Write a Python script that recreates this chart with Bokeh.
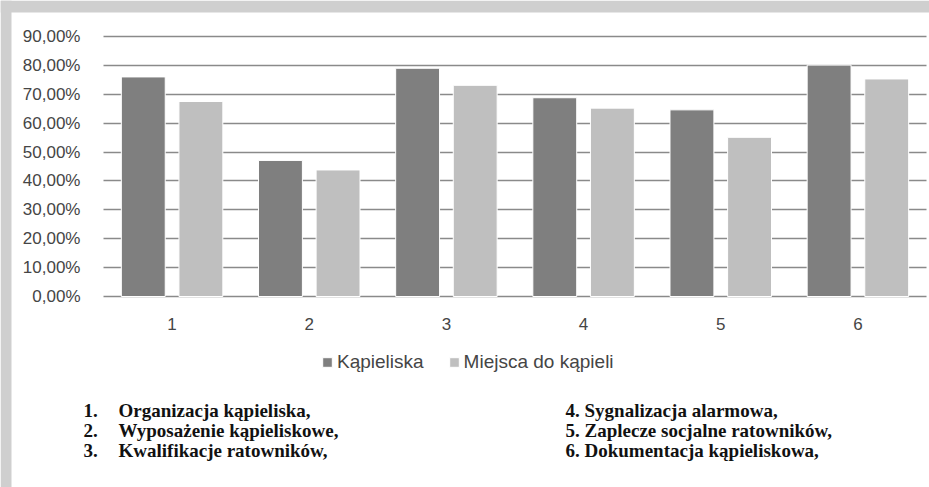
from bokeh.plotting import figure
from bokeh.models import (ColumnDataSource, Range1d, FixedTicker, Legend, LegendItem, Label,
                          BoxAnnotation, Grid)
from bokeh.transform import dodge
from bokeh.embed import file_html
from bokeh.resources import INLINE

# ---- data ----
categories = ["1", "2", "3", "4", "5", "6"]
kapieliska = [0.760, 0.471, 0.790, 0.688, 0.646, 0.801]
miejsca = [0.675, 0.438, 0.731, 0.652, 0.551, 0.753]
series_names = ["Kąpieliska", "Miejsca do kąpieli"]
y_ticks = [0.0, 0.1, 0.2, 0.3, 0.4, 0.5, 0.6, 0.7, 0.8, 0.9]
y_tick_labels = ["0,00%", "10,00%", "20,00%", "30,00%", "40,00%",
                 "50,00%", "60,00%", "70,00%", "80,00%", "90,00%"]
list_numbers = ["1.", "2.", "3."]
list_left = ["Organizacja kąpieliska,", "Wyposażenie kąpieliskowe,", "Kwalifikacje ratowników,"]
list_right = ["4. Sygnalizacja alarmowa,", "5. Zaplecze socjalne ratowników,", "6. Dokumentacja kąpieliskowa,"]

# ---- styling / layout (pixels) ----
DARK = "#7f7f7f"
LIGHT = "#bfbfbf"
GRID = "#8a8a8a"
FRAME_GRAY = "#cfcfcf"
LABEL_FONT = "Liberation Sans"
SERIF = "Liberation Serif"
TXT = "#454545"

W, H = 929, 487
PLOT_LEFT, PLOT_RIGHT = 103, 926      # x pixels of the chart area
ZERO_Y, PX_PER_UNIT = 296, 288.9      # y pixel of 0 % and pixels per 100 %
CAT_W = (PLOT_RIGHT - PLOT_LEFT) / len(categories)


def xd(px):
    return 0.5 + (px - PLOT_LEFT) / CAT_W


def yd(py):
    return (ZERO_Y - py) / PX_PER_UNIT


xs = list(range(1, len(categories) + 1))
src = ColumnDataSource(dict(x=xs, k=kapieliska, m=miejsca))

p = figure(width=W, height=H, output_backend="svg", toolbar_location=None,
           x_range=Range1d(xd(0), xd(W)), y_range=Range1d(yd(H), yd(0)),
           min_border_left=0, min_border_right=0, min_border_top=0, min_border_bottom=0)
p.outline_line_color = None
p.background_fill_color = "white"
p.border_fill_color = "white"

# scanned-page gray margins
p.add_layout(BoxAnnotation(bottom=yd(12), fill_color=FRAME_GRAY, fill_alpha=1, line_color=None,
                           level="underlay"))
p.add_layout(BoxAnnotation(right=xd(11), fill_color=FRAME_GRAY, fill_alpha=1, line_color=None,
                           level="underlay"))

r1 = p.vbar(x=dodge("x", -0.21), top="k", width=0.32, source=src,
            fill_color=DARK, line_color="white", line_width=1)
r2 = p.vbar(x=dodge("x", 0.21), top="m", width=0.32, source=src,
            fill_color=LIGHT, line_color="white", line_width=1)

# grid, limited to the chart area
p.xgrid.grid_line_color = None
p.ygrid.ticker = FixedTicker(ticks=y_ticks)
p.ygrid.grid_line_color = GRID
p.ygrid.grid_line_width = 1.5
if "cross_bounds" in Grid.properties():
    p.ygrid.cross_bounds = (xd(PLOT_LEFT), xd(PLOT_RIGHT))
else:
    p.ygrid.grid_line_color = None
    p.segment(x0=[xd(PLOT_LEFT)] * len(y_ticks), x1=[xd(PLOT_RIGHT)] * len(y_ticks),
              y0=y_ticks, y1=y_ticks, line_color=GRID, line_width=1.5, level="underlay")

# y axis, pinned at the left edge of the chart area
p.yaxis.fixed_location = xd(PLOT_LEFT)
p.yaxis.ticker = FixedTicker(ticks=y_ticks)
p.yaxis.major_label_overrides = {t: l for t, l in zip(y_ticks, y_tick_labels)}
p.yaxis.axis_line_color = None
p.yaxis.major_tick_line_color = None
p.yaxis.minor_tick_line_color = None
p.yaxis.major_label_standoff = 17
p.yaxis.major_label_text_font = LABEL_FONT
p.yaxis.major_label_text_font_size = "17px"
p.yaxis.major_label_text_color = TXT

# x axis, pinned at 0 %
p.xaxis.fixed_location = 0
p.xaxis.ticker = FixedTicker(ticks=xs)
p.xaxis.major_label_overrides = {x: c for x, c in zip(xs, categories)}
p.xaxis.axis_line_color = None
p.xaxis.major_tick_line_color = None
p.xaxis.minor_tick_line_color = None
p.xaxis.major_label_standoff = 15
p.xaxis.major_label_text_font = LABEL_FONT
p.xaxis.major_label_text_font_size = "17px"
p.xaxis.major_label_text_color = TXT

# legend
legend = Legend(items=[LegendItem(label=series_names[0], renderers=[r1]),
                       LegendItem(label=series_names[1], renderers=[r2])],
                orientation="horizontal", location=(321, 114),
                glyph_width=12, glyph_height=12, label_standoff=4, spacing=24,
                padding=0, margin=0, border_line_color=None, background_fill_alpha=0,
                label_text_font=LABEL_FONT, label_text_font_size="19px",
                label_text_color=TXT, label_height=20)
p.add_layout(legend, "center")

# enumerated list under the chart
NUM_X, TEXT_X, RIGHT_X = 83, 118, 565
line_y = [410, 430, 450]
for i in range(3):
    for xpx, txt in ((NUM_X, list_numbers[i]), (TEXT_X, list_left[i]), (RIGHT_X, list_right[i])):
        p.add_layout(Label(x=xd(xpx), y=yd(line_y[i]), text=txt, text_baseline="middle",
                           text_font=SERIF, text_font_size="19px", text_font_style="bold",
                           text_color="#111111"))

open("out.html", "w").write(file_html(p, INLINE))
